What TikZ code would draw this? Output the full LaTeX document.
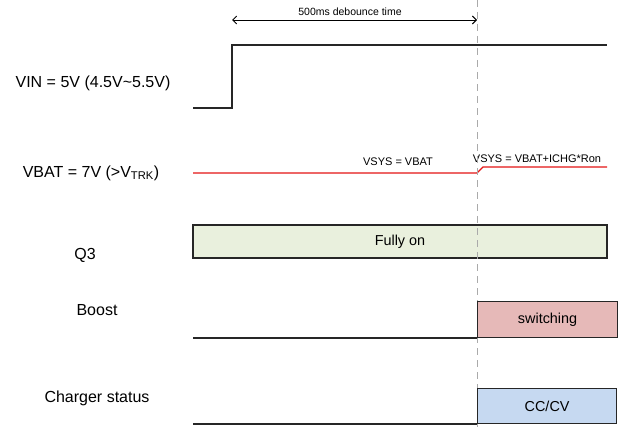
\documentclass[tikz,border=0pt]{standalone}
\usepackage{fontspec}
\setmainfont{Liberation Sans}
\usetikzlibrary{arrows.meta,positioning,calc}

\definecolor{onfill}{RGB}{233,240,221}
\definecolor{swfill}{RGB}{230,185,184}
\definecolor{ccfill}{RGB}{198,217,241}
\definecolor{vbatred}{RGB}{228,20,20}
\definecolor{markgray}{RGB}{170,170,170}

\begin{document}
\begin{tikzpicture}[
  x=1pt, y=-1pt,
  sig/.style={font=\fontsize{16}{19}\selectfont, inner sep=0pt},
  note/.style={font=\fontsize{11}{13}\selectfont, inner sep=0pt},
  state/.style={rectangle, draw=black!85, line width=1.2pt, inner sep=0pt, font=\fontsize{14.4}{17}\selectfont},
  wave/.style={line width=1.3pt, black!85},
  redwave/.style={line width=1.3pt, vbatred},
  marker/.style={markgray, line width=1pt, dash pattern=on 7pt off 5pt},
  dim/.style={{Straight Barb[length=4pt,width=8pt]}-{Straight Barb[length=4pt,width=8pt]}, line width=0.9pt}
]
\useasboundingbox (0,0) rectangle (621,428);

% time marks
\coordinate (t0) at (232,0);
\coordinate (t1) at (477,0);

% signal names
\node[sig] (vin) at (93,83) {VIN = 5V (4.5V\textasciitilde5.5V)};
\node[sig] (vbat) at (91,173) {VBAT = 7V (>V\textsubscript{TRK})};
\node[sig] (q3) at (85,255) {Q3};
\node[sig] (boost) at (97,310) {Boost};
\node[sig] (chg) at (97,398) {Charger status};

% debounce time
\coordinate (dimL) at (232,20);
\coordinate (dimR) at (477,20);
\draw[dim] (dimL) -- (dimR);
\node[note, font=\fontsize{10.5}{12}\selectfont] (deb) at (350,12) {500ms debounce time};

% VIN
\draw[wave] (193,108) -- (t0 |- 0,108) -- (t0 |- 0,45) -- (607,45);

% VBAT / VSYS
\draw[redwave] (193,173) -- (t1 |- 0,173) -- (483,167) -- (607,167);
\node[note] (vsys1) at (398,162) {VSYS = VBAT};
\node[note] (vsys2) at (537,159) {VSYS = VBAT+ICHG*Ron};

% Q3
\node[state, fill=onfill, minimum width=414pt, minimum height=33pt] (on) at (400,241.5) {Fully on};

% 500ms mark
\draw[marker] (t1) -- (t1 |- 0,428);

% Boost
\draw[wave] (193,338) -- (t1 |- 0,338);
\node[state, fill=swfill, minimum width=140pt, minimum height=36pt, anchor=south west] (sw) at (t1 |- 0,338) {switching};

% Charger status
\draw[wave] (193,424) -- (t1 |- 0,424);
\node[state, fill=ccfill, minimum width=139pt, minimum height=35pt, anchor=south west] (cc) at (t1 |- 0,424) {CC/CV};

\end{tikzpicture}
\end{document}
